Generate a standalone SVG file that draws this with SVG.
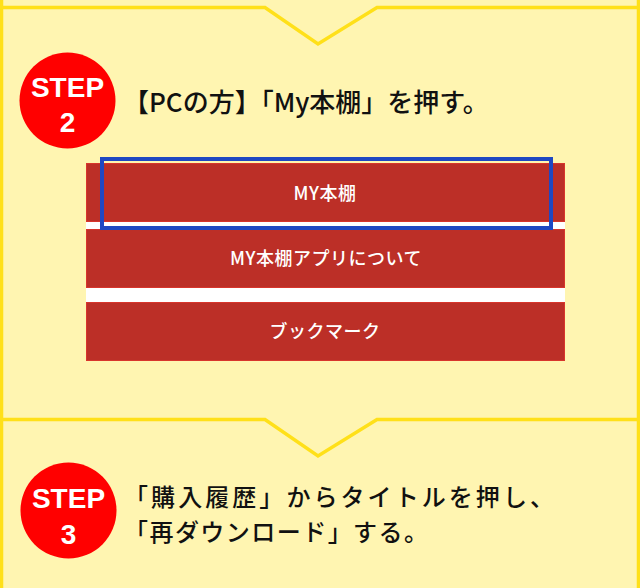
<svg xmlns="http://www.w3.org/2000/svg" width="640" height="588" viewBox="0 0 640 588">
  <style>
    .bg { fill: #FFF5B1; }
    .frame { fill: none; stroke: #FFE019; stroke-width: 3.5; }
    .badge { fill: #FF0000; }
    .badge-text { fill: #FFFFFF; font-family: "Liberation Sans", Arial, sans-serif; font-weight: bold; font-size: 28px; text-anchor: middle; }
    .step-text { fill: #111111; font-family: "Noto Sans CJK JP", "Noto Sans", sans-serif; font-weight: 500; }
    .btn { fill: #BC2F27; stroke: #D8352C; stroke-width: 1; }
    .btn-text { fill: #FFFFFF; font-family: "Noto Sans CJK JP", "Noto Sans", sans-serif; font-weight: 500; font-size: 18px; letter-spacing: 0.5px; text-anchor: middle; }
    .highlight { fill: none; stroke: #1F48C2; stroke-width: 4; }
  </style>

  <rect class="bg" x="0" y="0" width="640" height="588"/>

  <g id="connectors">
    <line class="frame" x1="1.5" y1="0" x2="1.5" y2="588"/>
    <line class="frame" x1="638.5" y1="0" x2="638.5" y2="588"/>
    <polyline class="frame" points="0,7.5 265,7.5 318,44 377,7.5 640,7.5"/>
    <polyline class="frame" points="0,419.5 265,419.5 318,456 377,419.5 640,419.5"/>
  </g>

  <g id="step2-badge">
    <circle class="badge" cx="67.5" cy="100.5" r="48"/>
    <text class="badge-text" x="67.5" y="97">STEP</text>
    <text class="badge-text" x="67.5" y="132">2</text>
  </g>

  <g id="step2-text">
    <text class="step-text" x="123" y="112" font-size="26">【PCの方】「My本棚」を押す。</text>
  </g>

  <g id="menu">
    <rect x="86" y="222" width="479" height="80" fill="#FFFFFF"/>
    <g id="btn-mybookshelf">
      <rect class="btn" x="86.5" y="163.5" width="478" height="58"/>
      <text class="btn-text" x="325" y="200">MY本棚</text>
    </g>
    <g id="btn-app">
      <rect class="btn" x="86.5" y="229.5" width="478" height="58"/>
      <text class="btn-text" x="326" y="265">MY本棚アプリについて</text>
    </g>
    <g id="btn-bookmark">
      <rect class="btn" x="86.5" y="302.5" width="478" height="58"/>
      <text class="btn-text" x="325" y="338">ブックマーク</text>
    </g>
    <rect id="highlight" class="highlight" x="102" y="159" width="449" height="69"/>
  </g>

  <g id="step3-badge">
    <ellipse class="badge" cx="68.5" cy="510.5" rx="48" ry="48"/>
    <text class="badge-text" x="68.5" y="508">STEP</text>
    <text class="badge-text" x="68.5" y="544">3</text>
  </g>

  <g id="step3-text">
    <text class="step-text" x="124" y="506" font-size="24" textLength="430" lengthAdjust="spacing">「購入履歴」からタイトルを押し、</text>
    <text class="step-text" x="124" y="541" font-size="24" textLength="304" lengthAdjust="spacing">「再ダウンロード」する。</text>
  </g>
</svg>
